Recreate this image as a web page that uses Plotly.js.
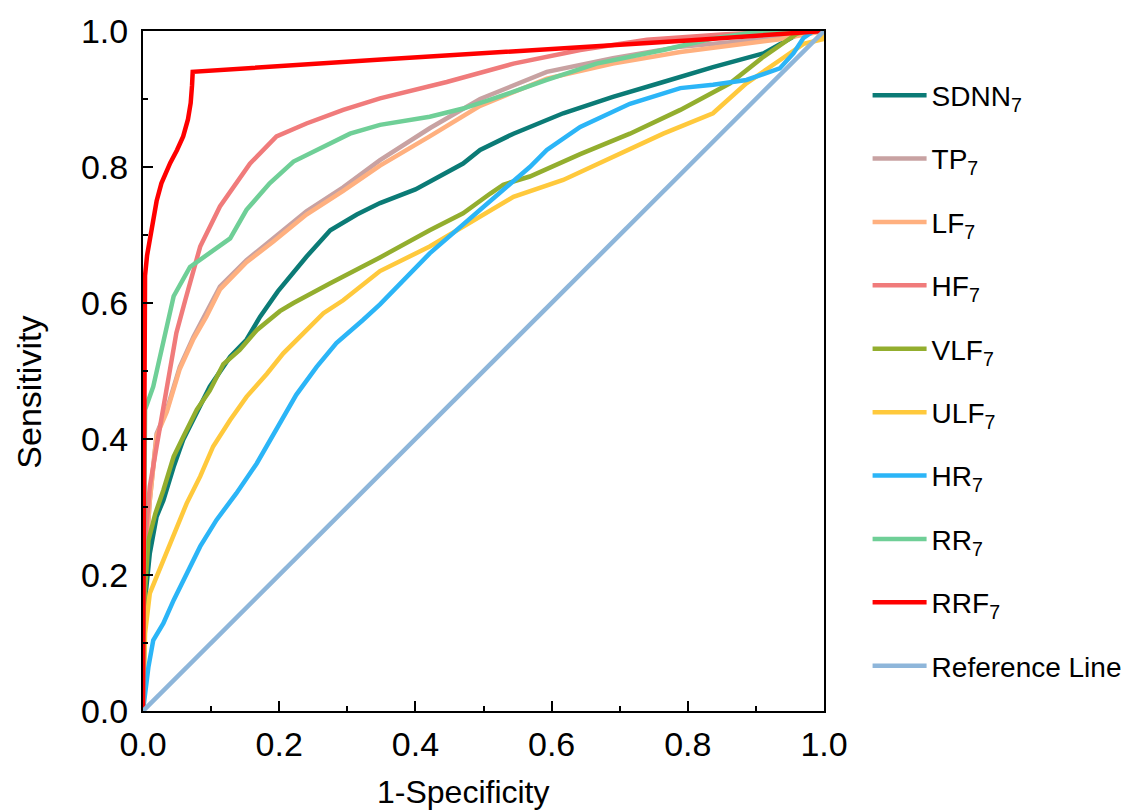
<!DOCTYPE html>
<html>
<head>
<meta charset="utf-8">
<script src="https://cdn.plot.ly/plotly-3.0.1.min.js"></script>
<style>html,body{margin:0;padding:0;background:#fff;}#chart{width:1126px;height:810px;}</style>
</head>
<body>
<div id="chart"></div>
<script>
// ---- data ----
const seriesNames = ["SDNN<sub>7</sub>", "TP<sub>7</sub>", "LF<sub>7</sub>", "HF<sub>7</sub>", "VLF<sub>7</sub>", "ULF<sub>7</sub>", "HR<sub>7</sub>", "RR<sub>7</sub>", "RRF<sub>7</sub>", "Reference Line"];

const sdnnX = [0,0.001,0.003,0.01,0.02,0.03,0.045,0.059,0.079,0.098,0.128,0.152,0.172,0.198,0.24,0.275,0.314,0.348,0.4,0.47,0.495,0.544,0.617,0.69,0.764,0.837,0.911,0.95,0.97,1];
const sdnnY = [0,0.1,0.163,0.232,0.286,0.31,0.359,0.399,0.438,0.477,0.521,0.546,0.58,0.617,0.668,0.707,0.73,0.747,0.767,0.805,0.825,0.849,0.879,0.903,0.925,0.947,0.967,0.989,1,1];

const tpX = [0,0.002,0.01,0.02,0.035,0.054,0.074,0.093,0.113,0.152,0.191,0.24,0.294,0.348,0.421,0.495,0.593,0.69,0.789,0.88,0.935,1];
const tpY = [0,0.2,0.31,0.408,0.443,0.506,0.55,0.585,0.624,0.663,0.695,0.735,0.77,0.81,0.857,0.9,0.94,0.96,0.977,0.986,0.99,1];

const lfX = [0,0.002,0.01,0.02,0.035,0.054,0.074,0.093,0.113,0.152,0.191,0.24,0.294,0.348,0.421,0.495,0.593,0.69,0.789,0.88,0.935,1];
const lfY = [0,0.2,0.31,0.405,0.44,0.503,0.547,0.58,0.62,0.66,0.69,0.73,0.765,0.802,0.845,0.89,0.93,0.952,0.969,0.98,0.988,1];

const hfX = [0,0.002,0.005,0.01,0.02,0.035,0.049,0.062,0.084,0.113,0.1375,0.157,0.196,0.24,0.294,0.348,0.446,0.544,0.642,0.74,0.85,0.95,1];
const hfY = [0,0.2,0.27,0.33,0.389,0.477,0.556,0.604,0.683,0.742,0.776,0.805,0.845,0.864,0.884,0.901,0.925,0.952,0.972,0.987,0.995,1,1];

const vlfX = [0,0.001,0.003,0.008,0.018,0.03,0.045,0.059,0.079,0.098,0.118,0.142,0.167,0.201,0.221,0.275,0.323,0.348,0.421,0.47,0.51,0.529,0.568,0.642,0.715,0.789,0.862,0.911,0.96,0.975,1];
const vlfY = [0,0.1,0.178,0.251,0.29,0.325,0.374,0.403,0.443,0.471,0.51,0.531,0.56,0.588,0.6,0.629,0.653,0.667,0.707,0.732,0.761,0.774,0.786,0.819,0.849,0.884,0.923,0.962,0.996,1,1];

const ulfX = [0,0.001,0.003,0.01,0.022,0.035,0.049,0.064,0.084,0.103,0.128,0.152,0.182,0.206,0.235,0.265,0.294,0.319,0.348,0.421,0.495,0.544,0.617,0.69,0.764,0.837,0.886,0.935,0.97,0.998,1];
const ulfY = [0,0.06,0.114,0.173,0.202,0.237,0.271,0.305,0.345,0.389,0.428,0.462,0.496,0.526,0.555,0.585,0.604,0.624,0.647,0.683,0.727,0.756,0.781,0.815,0.849,0.879,0.923,0.957,0.981,0.988,1];

const hrX = [0,0.008,0.015,0.03,0.045,0.064,0.084,0.108,0.137,0.167,0.201,0.225,0.255,0.284,0.323,0.348,0.421,0.495,0.544,0.568,0.593,0.642,0.715,0.789,0.837,0.886,0.935,0.955,0.97,0.985,1];
const hrY = [0,0.065,0.104,0.129,0.163,0.202,0.242,0.281,0.32,0.364,0.425,0.465,0.506,0.541,0.575,0.598,0.673,0.737,0.781,0.8,0.825,0.859,0.893,0.916,0.921,0.928,0.945,0.967,0.99,1,1];

const rrX = [0,0.002,0.003,0.015,0.03,0.045,0.069,0.128,0.152,0.186,0.221,0.275,0.304,0.348,0.421,0.47,0.51,0.593,0.666,0.764,0.837,0.91,1];
const rrY = [0,0.38,0.443,0.477,0.541,0.61,0.653,0.695,0.737,0.776,0.808,0.835,0.849,0.862,0.874,0.886,0.899,0.928,0.952,0.972,0.989,1,1];

const rrfX = [0,0.002,0.003,0.006,0.013,0.02,0.027,0.035,0.04,0.05,0.059,0.066,0.07,0.072,0.073,0.35,0.6,0.8,1];
const rrfY = [0,0.6,0.64,0.67,0.707,0.75,0.776,0.795,0.806,0.825,0.845,0.87,0.894,0.92,0.94,0.958,0.973,0.986,1];

const refX = [0,1];
const refY = [0,1];

const tickVals = [0,0.2,0.4,0.6,0.8,1.0];
const tickText = ['0.0','0.2','0.4','0.6','0.8','1.0'];
const minorVals = [0.1,0.3,0.5,0.7,0.9];
const xTitle = '1-Specificity';
const yTitle = 'Sensitivity';

const colors = ["#0B7B76","#C8A2A2","#FFB07F","#F07B7B","#93AE2E","#FFC93C","#2BB5F7","#6FCF97","#FF0000","#8EB6DA"];
const xs = [sdnnX,tpX,lfX,hfX,vlfX,ulfX,hrX,rrX,rrfX,refX];
const ys = [sdnnY,tpY,lfY,hfY,vlfY,ulfY,hrY,rrY,rrfY,refY];

const traces = seriesNames.map((n,i)=>({
  type:'scatter', mode:'lines', name:n, x:xs[i], y:ys[i],
  legendgroup:'g'+i,
  line:{color:colors[i], width:4.5}
}));

const font = "Arial, 'Liberation Sans', sans-serif";
const axisCommon = {
  range:[0,1], showgrid:false, zeroline:false,
  showline:true, linecolor:'#000', linewidth:2, mirror:true,
  ticks:'inside', ticklen:10, tickwidth:2, tickcolor:'#000',
  tickvals:tickVals, ticktext:tickText,
  minor:{ticks:'inside', ticklen:5, tickwidth:2, tickcolor:'#000', tickvals:minorVals},
  tickfont:{family:font, size:34, color:'#000'},
  fixedrange:true
};

const layout = {
  width:1126, height:810,
  margin:{l:143, r:302, t:31, b:99, autoexpand:false},
  paper_bgcolor:'#fff', plot_bgcolor:'#fff',
  showlegend:true,
  xaxis:Object.assign({}, axisCommon, {ticklabelstandoff:2}),
  yaxis:Object.assign({}, axisCommon, {ticklabelstandoff:6}),
  annotations:[
    {text:xTitle, xref:'paper', yref:'paper', x:0.47, y:-0.119, xanchor:'center', yanchor:'middle', showarrow:false,
     font:{family:font, size:32, color:'#000'}},
    {text:yTitle, xref:'paper', yref:'paper', x:-0.168, y:0.469, xanchor:'center', yanchor:'middle', showarrow:false, textangle:-90,
     font:{family:font, size:34, color:'#000'}}
  ],
  legend:{
    x:1.064, y:0.942, xanchor:'left', yanchor:'top',
    font:{family:font, size:28, color:'#000'},
    tracegroupgap:24, itemwidth:54,
    bgcolor:'rgba(0,0,0,0)', borderwidth:0
  }
};

Plotly.newPlot('chart', traces, layout, {staticPlot:true, displayModeBar:false});
</script>
</body>
</html>
